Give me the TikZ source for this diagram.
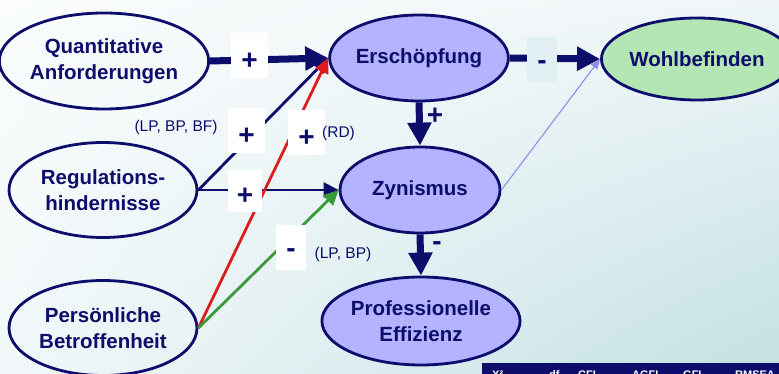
\documentclass[tikz,border=0pt]{standalone}
\usepackage{fontspec}
\setmainfont{Liberation Sans}
\usetikzlibrary{arrows.meta,shapes.geometric,shadings}

\definecolor{navy}{HTML}{0D0D6B}
\definecolor{lilac}{HTML}{B3B3FF}
\definecolor{mint}{HTML}{B3E6B3}
\definecolor{arrowred}{HTML}{DD1C1C}
\definecolor{arrowgreen}{HTML}{3A9A3A}
\definecolor{faint}{HTML}{8C8CE8}
\definecolor{minusbox}{HTML}{E2EFF2}
\definecolor{bgtl}{HTML}{FAFCFD}
\definecolor{bgtr}{HTML}{F0F6F8}
\definecolor{bgbl}{HTML}{F2F8F9}
\definecolor{bgbr}{HTML}{C2E0E3}

\tikzset{
  factor/.style={ellipse, draw=navy, line width=2.8pt, inner sep=0pt,
    text=navy, align=center, font=\bfseries\fontsize{20.5}{25.5}\selectfont},
  strong/.style={draw=navy, fill=none, line width=7pt,
    -{Triangle[length=23pt,width=23pt]}},
  weak/.style={draw=navy, line width=2.8pt, -{Triangle[length=15pt,width=15pt]}},
  redlink/.style={draw=arrowred, line width=2.8pt, -{Triangle[length=15pt,width=14pt]}},
  greenlink/.style={draw=arrowgreen, line width=2.8pt, -{Triangle[length=15pt,width=14pt]}},
  faintlink/.style={draw=faint, line width=1.1pt, -{Triangle[length=10pt,width=8pt]}},
  plusbox/.style={fill=white, inner sep=0pt, text=navy,
    font=\bfseries\fontsize{28}{28}\selectfont,
    minimum width=37pt, minimum height=45pt, text height=28pt, text depth=0pt},
  minusbox/.style={fill=white, inner sep=0pt, text=navy,
    font=\bfseries\fontsize{28}{28}\selectfont,
    minimum width=30pt, minimum height=45pt, text height=20pt, text depth=0pt},
  sign/.style={inner sep=0pt, text=navy, font=\bfseries\fontsize{28}{28}\selectfont},
  note/.style={inner sep=0pt, text=navy, font=\fontsize{15.5}{18}\selectfont},
  fitstat/.style={inner sep=0pt, anchor=base west, text=white,
    font=\bfseries\fontsize{11}{13}\selectfont}
}

\begin{document}
\begin{tikzpicture}[x=1pt,y=-1pt]
\useasboundingbox (0,0) rectangle (779,374);
\begin{scope}
\clip (0,0) rectangle (779,374);

% background
\shade[upper left=bgtl, upper right=bgtr, lower left=bgbl, lower right=bgbr]
  (0,0) rectangle (779,374);

% factors
\node[factor, minimum width=188pt, minimum height=96pt] (quant) at (104,61)
  {Quantitative\\Anforderungen};
\node[factor, minimum width=188pt, minimum height=95pt] (reg) at (103,190)
  {Regulations-\\hindernisse};
\node[factor, minimum width=188pt, minimum height=95pt] (pers) at (103,328)
  {Persönliche\\Betroffenheit};
\node[factor, fill=lilac, minimum width=162pt, minimum height=86pt] (ersch) at (419,58)
  {Erschöpfung};
\node[factor, fill=mint, minimum width=156pt, minimum height=82pt] (wohl) at (697,59)
  {Wohlbefinden};
\node[factor, fill=lilac, minimum width=160pt, minimum height=86pt] (zyn) at (420,190)
  {Zynismus};
\node[factor, fill=lilac, minimum width=188pt, minimum height=88pt] (prof) at (421,321)
  {Professionelle\\Effizienz};

% paths
\draw[faintlink] (zyn.east) -- (wohl.west);
\draw[weak] (reg.east) -- (ersch.west);
\draw[weak] (reg.east) -- (zyn.west);
\draw[redlink] (pers.east) -- (ersch.west);
\draw[greenlink] (pers.east) -- (zyn.west);
\draw[strong] (quant.east) -- (ersch.west);
\draw[strong] (ersch.east) -- (wohl.west);
\draw[strong] (ersch.south) -- (zyn.north);
\draw[strong] (zyn.south) -- (prof.north);

% signs
\node[plusbox] (s1) at (249.5,55.5) {+};
\node[minusbox, fill=minusbox] (s2) at (542,59.5) {-};
\node[plusbox] (s3) at (246.5,130.5) {+};
\node[plusbox, minimum width=34pt, minimum height=42pt] (s4) at (245,191) {+};
\node[plusbox] (s5) at (306.5,132.5) {+};
\node[minusbox] (s6) at (291,247.5) {-};
\node[sign] (s7) at (435,116) {+};
\node[sign] (s8) at (437,246) {-};

% sample notes
\node[note] (n1) at (176,127) {(LP, BP, BF)};
\node[note, anchor=west] (n2) at (322,133) {(RD)};
\node[note] (n3) at (343,254) {(LP, BP)};

% fit statistics bar
\fill[navy] (482,363) rectangle (790,390);
\node[fitstat] (f1) at (492,378) {X²};
\node[fitstat] (f2) at (549,378) {df};
\node[fitstat] (f3) at (578,378) {CFI};
\node[fitstat] (f4) at (632,378) {AGFI};
\node[fitstat] (f5) at (683,378) {GFI};
\node[fitstat] (f6) at (735,378) {RMSEA};
\end{scope}
\end{tikzpicture}
\end{document}
